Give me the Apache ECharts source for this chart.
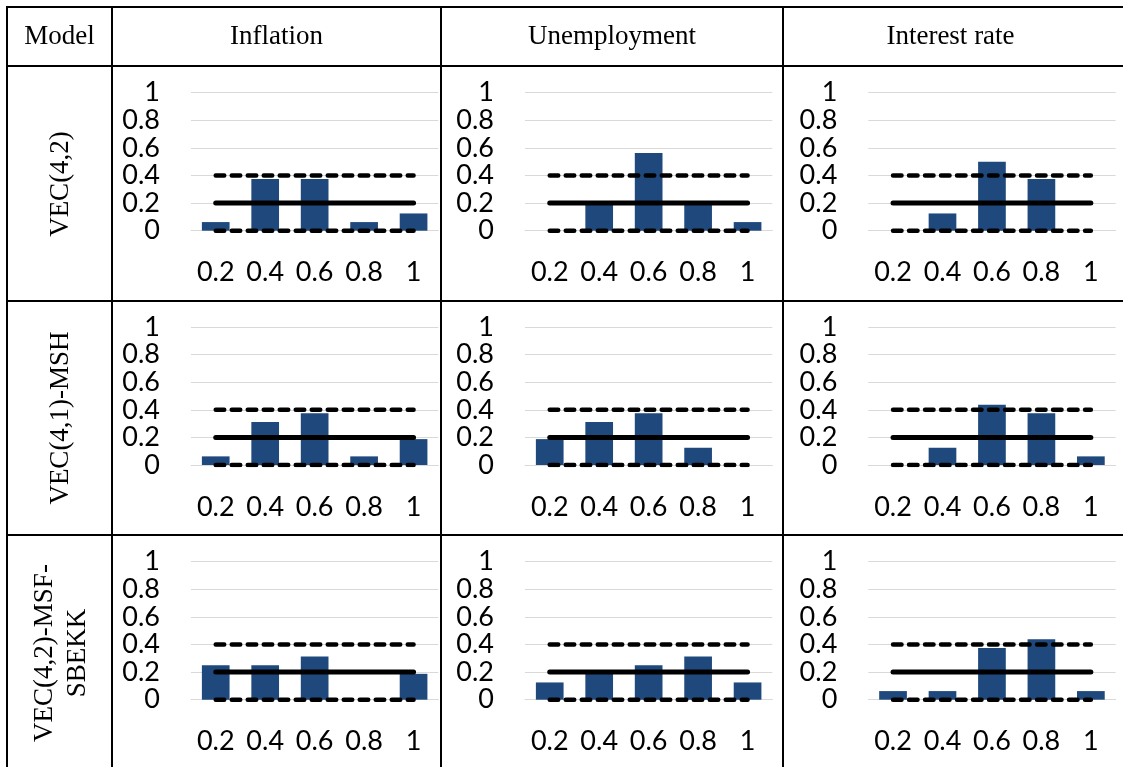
<!DOCTYPE html>
<html>
<head>
<meta charset="utf-8">
<title>Model histograms</title>
<script src="https://cdn.jsdelivr.net/npm/echarts@6/dist/echarts.min.js"></script>
<style>
  html, body { margin: 0; padding: 0; background: #fff; }
  #chart { width: 1123px; height: 767px; }
</style>
</head>
<body>
<div id="chart"></div>
<script>
// Histogram bins (x axis)
const categories = ['0.2', '0.4', '0.6', '0.8', '1'];
// Row and column headings
const models = ['VEC(4,2)', 'VEC(4,1)-MSH', 'VEC(4,2)-MSF-\nSBEKK'];
const variables = ['Inflation', 'Unemployment', 'Interest rate'];

// Relative frequencies per model and variable
const vec42Inflation     = [0.0625, 0.375, 0.375, 0.0625, 0.125];
const vec42Unemployment  = [0, 0.1875, 0.5625, 0.1875, 0.0625];
const vec42Interest      = [0, 0.125, 0.5, 0.375, 0];
const mshInflation       = [0.0625, 0.3125, 0.375, 0.0625, 0.1875];
const mshUnemployment    = [0.1875, 0.3125, 0.375, 0.125, 0];
const mshInterest        = [0, 0.125, 0.4375, 0.375, 0.0625];
const sbekkInflation     = [0.25, 0.25, 0.3125, 0, 0.1875];
const sbekkUnemployment  = [0.125, 0.1875, 0.25, 0.3125, 0.125];
const sbekkInterest      = [0.0625, 0.0625, 0.375, 0.4375, 0.0625];

// Uniform reference level and its band
const bandUpper  = [0.4, 0.4, 0.4, 0.4, 0.4];
const bandCenter = [0.2, 0.2, 0.2, 0.2, 0.2];
const bandLower  = [0, 0, 0, 0, 0];

const panels = [
  [vec42Inflation, vec42Unemployment, vec42Interest],
  [mshInflation, mshUnemployment, mshInterest],
  [sbekkInflation, sbekkUnemployment, sbekkInterest]
];

// Layout of the table
const colLines = [7, 112, 441, 783];
const rowLines = [7, 66, 301, 535];
const plotLefts = [191, 525, 868.3];
const plotWidth = 247.3;
const plotTops = [92.7, 327, 561.7];
const plotHeight = 138;

const numFont = 'Lato';
const numSize = 27;
const serif = '"Liberation Serif", "Times New Roman", serif';

const grids = [], xAxes = [], yAxes = [], series = [];
let idx = 0;
for (let r = 0; r < 3; r++) {
  for (let c = 0; c < 3; c++) {
    grids.push({ left: plotLefts[c], top: plotTops[r], width: plotWidth, height: plotHeight, containLabel: false });
    xAxes.push({
      gridIndex: idx, type: 'category', data: categories, boundaryGap: true,
      axisLine: { show: true, lineStyle: { color: '#d9d9d9', width: 1 } },
      axisTick: { show: false },
      axisLabel: { color: '#000', fontFamily: numFont, fontSize: numSize, margin: 28, lineHeight: 28,
        interval: 0, hideOverlap: false }
    });
    yAxes.push({
      gridIndex: idx, type: 'value', min: 0, max: 1, interval: 0.2,
      axisLine: { show: false }, axisTick: { show: false },
      splitLine: { show: true, lineStyle: { color: '#d9d9d9', width: 1 } },
      axisLabel: { color: '#000', fontFamily: numFont, fontSize: numSize, margin: 31, lineHeight: 24,
        showMinLabel: true, showMaxLabel: true, hideOverlap: false }
    });
    series.push({
      type: 'bar', xAxisIndex: idx, yAxisIndex: idx, data: panels[r][c],
      barCategoryGap: '44%', itemStyle: { color: '#1F497D' }, z: 2, silent: true
    });
    const dashed = { color: '#000', width: 4.5, type: [8.5, 7.5], cap: 'round' };
    series.push({
      type: 'line', xAxisIndex: idx, yAxisIndex: idx, data: bandUpper,
      symbol: 'none', lineStyle: dashed, z: 3, silent: true
    });
    series.push({
      type: 'line', xAxisIndex: idx, yAxisIndex: idx, data: bandLower,
      symbol: 'none', lineStyle: dashed, z: 3, silent: true
    });
    series.push({
      type: 'line', xAxisIndex: idx, yAxisIndex: idx, data: bandCenter,
      symbol: 'none', lineStyle: { color: '#000', width: 5, cap: 'round' }, z: 4, silent: true
    });
    idx++;
  }
}

// Table rules and headings
const graphics = [];
const lineStyle = { stroke: '#000', lineWidth: 2 };
rowLines.forEach(y => graphics.push({ type: 'line', shape: { x1: 6, y1: y, x2: 1123, y2: y }, style: lineStyle, z: 10 }));
colLines.forEach(x => graphics.push({ type: 'line', shape: { x1: x, y1: 6, x2: x, y2: 767 }, style: lineStyle, z: 10 }));

graphics.push({ type: 'text', x: (colLines[0] + colLines[1]) / 2, y: 37,
  style: { text: 'Model', font: '27px ' + serif, fill: '#000', textAlign: 'center', textVerticalAlign: 'middle' } });
const colCenters = [(112 + 441) / 2, (441 + 783) / 2, (783 + 1118) / 2];
variables.forEach((v, i) => graphics.push({ type: 'text', x: colCenters[i], y: 37,
  style: { text: v, font: '27px ' + serif, fill: '#000', textAlign: 'center', textVerticalAlign: 'middle' } }));

const rowCenters = [184, 418, 653];
models.forEach((m, i) => graphics.push({ type: 'text', x: 61, y: rowCenters[i], rotation: Math.PI / 2,
  style: { text: m, font: '27px ' + serif, fill: '#000', textAlign: 'center', textVerticalAlign: 'middle', lineHeight: 33 } }));

const chart = echarts.init(document.getElementById('chart'), null, { renderer: 'canvas' });
chart.setOption({
  animation: false,
  backgroundColor: '#fff',
  grid: grids,
  xAxis: xAxes,
  yAxis: yAxes,
  series: series,
  graphic: graphics
});
</script>
</body>
</html>
